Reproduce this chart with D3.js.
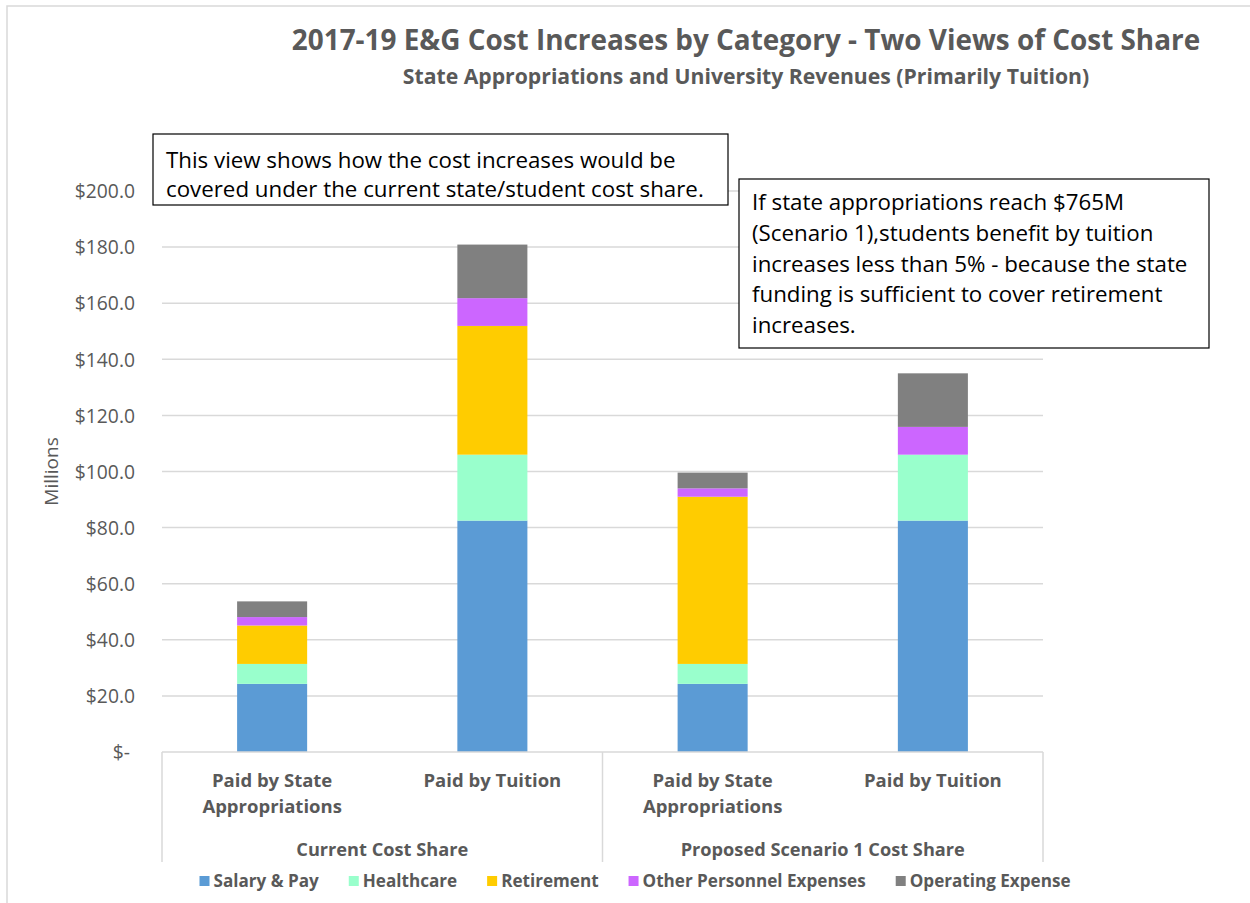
<!DOCTYPE html>
<html>
<head>
<meta charset="utf-8">
<script src="https://cdn.jsdelivr.net/npm/d3@7"></script>
<style>
  body { margin: 0; background: #fff; }
  svg { font-family: "Open Sans", sans-serif; }
</style>
</head>
<body>
<div id="chart"></div>
<script>
// data (millions of dollars)
var categories = ["Paid by State|Appropriations", "Paid by Tuition", "Paid by State|Appropriations", "Paid by Tuition"];
var groups = ["Current Cost Share", "Proposed Scenario 1 Cost Share"];
var seriesNames = ["Salary & Pay", "Healthcare", "Retirement", "Other Personnel Expenses", "Operating Expense"];
var salary     = [24.3, 82.5, 24.3, 82.5];
var healthcare = [7.1, 23.5, 7.1, 23.5];
var retirement = [13.7, 45.9, 59.6, 0];
var otherPers  = [3.0, 9.9, 3.0, 9.9];
var operating  = [5.6, 19.1, 5.6, 19.1];
var yTicks = [0, 20, 40, 60, 80, 100, 120, 140, 160, 180, 200];

var colors = ["#5B9BD5", "#99FFCC", "#FFCC00", "#CC66FF", "#808080"];
var textGray = "#595959";
var gridGray = "#d9d9d9";

var width = 1250, height = 903;
var margin = {top: 191, right: 207, bottom: 151, left: 162};

var svg = d3.select("#chart").append("svg")
    .attr("width", width)
    .attr("height", height);

// outer chart border
svg.append("rect")
    .attr("x", 7).attr("y", 6)
    .attr("width", width + 20).attr("height", height + 20)
    .attr("fill", "none")
    .attr("stroke", gridGray)
    .attr("stroke-width", 1.5);

var rows = categories.map(function(c, i) {
  return {
    key: i,
    "Salary & Pay": salary[i],
    "Healthcare": healthcare[i],
    "Retirement": retirement[i],
    "Other Personnel Expenses": otherPers[i],
    "Operating Expense": operating[i]
  };
});
var stacked = d3.stack().keys(seriesNames)(rows);

var x = d3.scaleBand()
    .domain(d3.range(categories.length))
    .range([margin.left, width - margin.right])
    .padding(0);

var y = d3.scaleLinear()
    .domain([0, 200])
    .range([height - margin.bottom, margin.top]);

var barW = x.bandwidth() * 0.318;

// gridlines
svg.append("g")
  .selectAll("line")
  .data(yTicks.filter(function(d) { return d > 0; }))
  .join("line")
    .attr("x1", margin.left).attr("x2", width - margin.right)
    .attr("y1", function(d) { return y(d); })
    .attr("y2", function(d) { return y(d); })
    .attr("stroke", gridGray)
    .attr("stroke-width", 1.5);

// y axis labels
var yAxis = d3.axisLeft(y)
    .tickValues(yTicks)
    .tickSize(0)
    .tickPadding(0)
    .tickFormat(function(d) { return d === 0 ? "$-" : "$" + d3.format(".1f")(d); });

var yg = svg.append("g")
    .attr("transform", "translate(135,0)")
    .call(yAxis);
yg.select(".domain").remove();
yg.selectAll("text")
    .attr("fill", textGray)
    .style("font-size", "19.3px")
    .style("font-family", "'Open Sans', sans-serif")
    .attr("dy", "0.35em")
    .attr("x", function(d) { return d === 0 ? -5 : 0; });

svg.append("text")
    .attr("transform", "translate(58," + y(100) + ") rotate(-90)")
    .attr("text-anchor", "middle")
    .attr("fill", textGray)
    .style("font-size", "19px")
    .text("Millions");

// bars
svg.append("g")
  .selectAll("g")
  .data(stacked)
  .join("g")
    .attr("fill", function(d, i) { return colors[i]; })
  .selectAll("rect")
  .data(function(d) { return d; })
  .join("rect")
    .attr("x", function(d, i) { return x(i) + (x.bandwidth() - barW) / 2; })
    .attr("y", function(d) { return y(d[1]); })
    .attr("width", barW)
    .attr("height", function(d) { return y(d[0]) - y(d[1]); });

// category axis
var axisY = y(0);
svg.append("line")
    .attr("x1", margin.left).attr("x2", width - margin.right)
    .attr("y1", axisY).attr("y2", axisY)
    .attr("stroke", gridGray).attr("stroke-width", 1.5);

var sepX = [x(0), x(2), x(3) + x.bandwidth()];
svg.append("g")
  .selectAll("line")
  .data(sepX)
  .join("line")
    .attr("x1", function(d) { return d; }).attr("x2", function(d) { return d; })
    .attr("y1", axisY).attr("y2", axisY + 110)
    .attr("stroke", gridGray).attr("stroke-width", 1.5);

var catText = svg.append("g")
  .selectAll("text")
  .data(categories)
  .join("text")
    .attr("x", function(d, i) { return x(i) + x.bandwidth() / 2; })
    .attr("y", axisY + 35)
    .attr("text-anchor", "middle")
    .attr("fill", textGray)
    .style("font-size", "18.5px")
    .style("font-weight", "bold");
catText.each(function(d) {
  var t = d3.select(this);
  d.split("|").forEach(function(line, k) {
    t.append("tspan")
      .attr("x", t.attr("x"))
      .attr("dy", k === 0 ? 0 : 26)
      .text(line);
  });
});

svg.append("g")
  .selectAll("text")
  .data(groups)
  .join("text")
    .attr("x", function(d, i) { return (x(i * 2) + x(i * 2 + 1) + x.bandwidth()) / 2; })
    .attr("y", axisY + 104)
    .attr("text-anchor", "middle")
    .attr("fill", textGray)
    .style("font-size", "18.2px")
    .style("font-weight", "bold")
    .text(function(d) { return d; });

// titles
svg.append("text")
    .attr("x", 746).attr("y", 50)
    .attr("text-anchor", "middle")
    .attr("fill", textGray)
    .style("font-size", "27.9px")
    .style("font-weight", "bold")
    .text("2017-19 E&G Cost Increases by Category - Two Views of Cost Share");

svg.append("text")
    .attr("x", 746).attr("y", 84)
    .attr("text-anchor", "middle")
    .attr("fill", textGray)
    .style("font-size", "21.2px")
    .style("font-weight", "bold")
    .text("State Appropriations and University Revenues (Primarily Tuition)");

// annotation boxes
function noteBox(bx, by, bw, bh, lines, top, lineH) {
  var g = svg.append("g");
  g.append("rect")
      .attr("x", bx).attr("y", by)
      .attr("width", bw).attr("height", bh)
      .attr("fill", "#fff")
      .attr("stroke", "#000")
      .attr("stroke-width", 1.2);
  g.append("text")
      .attr("fill", "#000")
      .style("font-size", "22.3px")
    .selectAll("tspan")
    .data(lines)
    .join("tspan")
      .attr("x", bx + 13)
      .attr("y", function(d, i) { return by + top + i * lineH; })
      .text(function(d) { return d; });
}

noteBox(153, 134, 575, 71, [
  "This view shows how the cost increases would be",
  "covered under the current state/student cost share."
], 34, 29);

noteBox(739, 179, 470, 169, [
  "If state appropriations reach $765M",
  "(Scenario 1),students benefit by tuition",
  "increases less than 5% - because the state",
  "funding is sufficient to cover retirement",
  "increases."
], 31, 30.8);

// legend
var legend = svg.append("g").attr("transform", "translate(0,881)");
var items = legend.selectAll("g")
  .data(seriesNames)
  .join("g");
items.append("rect")
    .attr("y", -5).attr("width", 10).attr("height", 10)
    .attr("fill", function(d, i) { return colors[i]; });
items.append("text")
    .attr("x", 14)
    .attr("dy", "0.35em")
    .attr("fill", textGray)
    .style("font-size", "17.1px")
    .style("font-weight", "bold")
    .text(function(d) { return d; });

var gap = 30, offs = [], total = 0;
items.each(function(d, i) {
  var w = 14 + this.querySelector("text").getComputedTextLength();
  offs.push(total);
  total += w + (i < seriesNames.length - 1 ? gap : 0);
});
var startX = 635 - total / 2;
items.attr("transform", function(d, i) { return "translate(" + (startX + offs[i]) + ",0)"; });
</script>
</body>
</html>
